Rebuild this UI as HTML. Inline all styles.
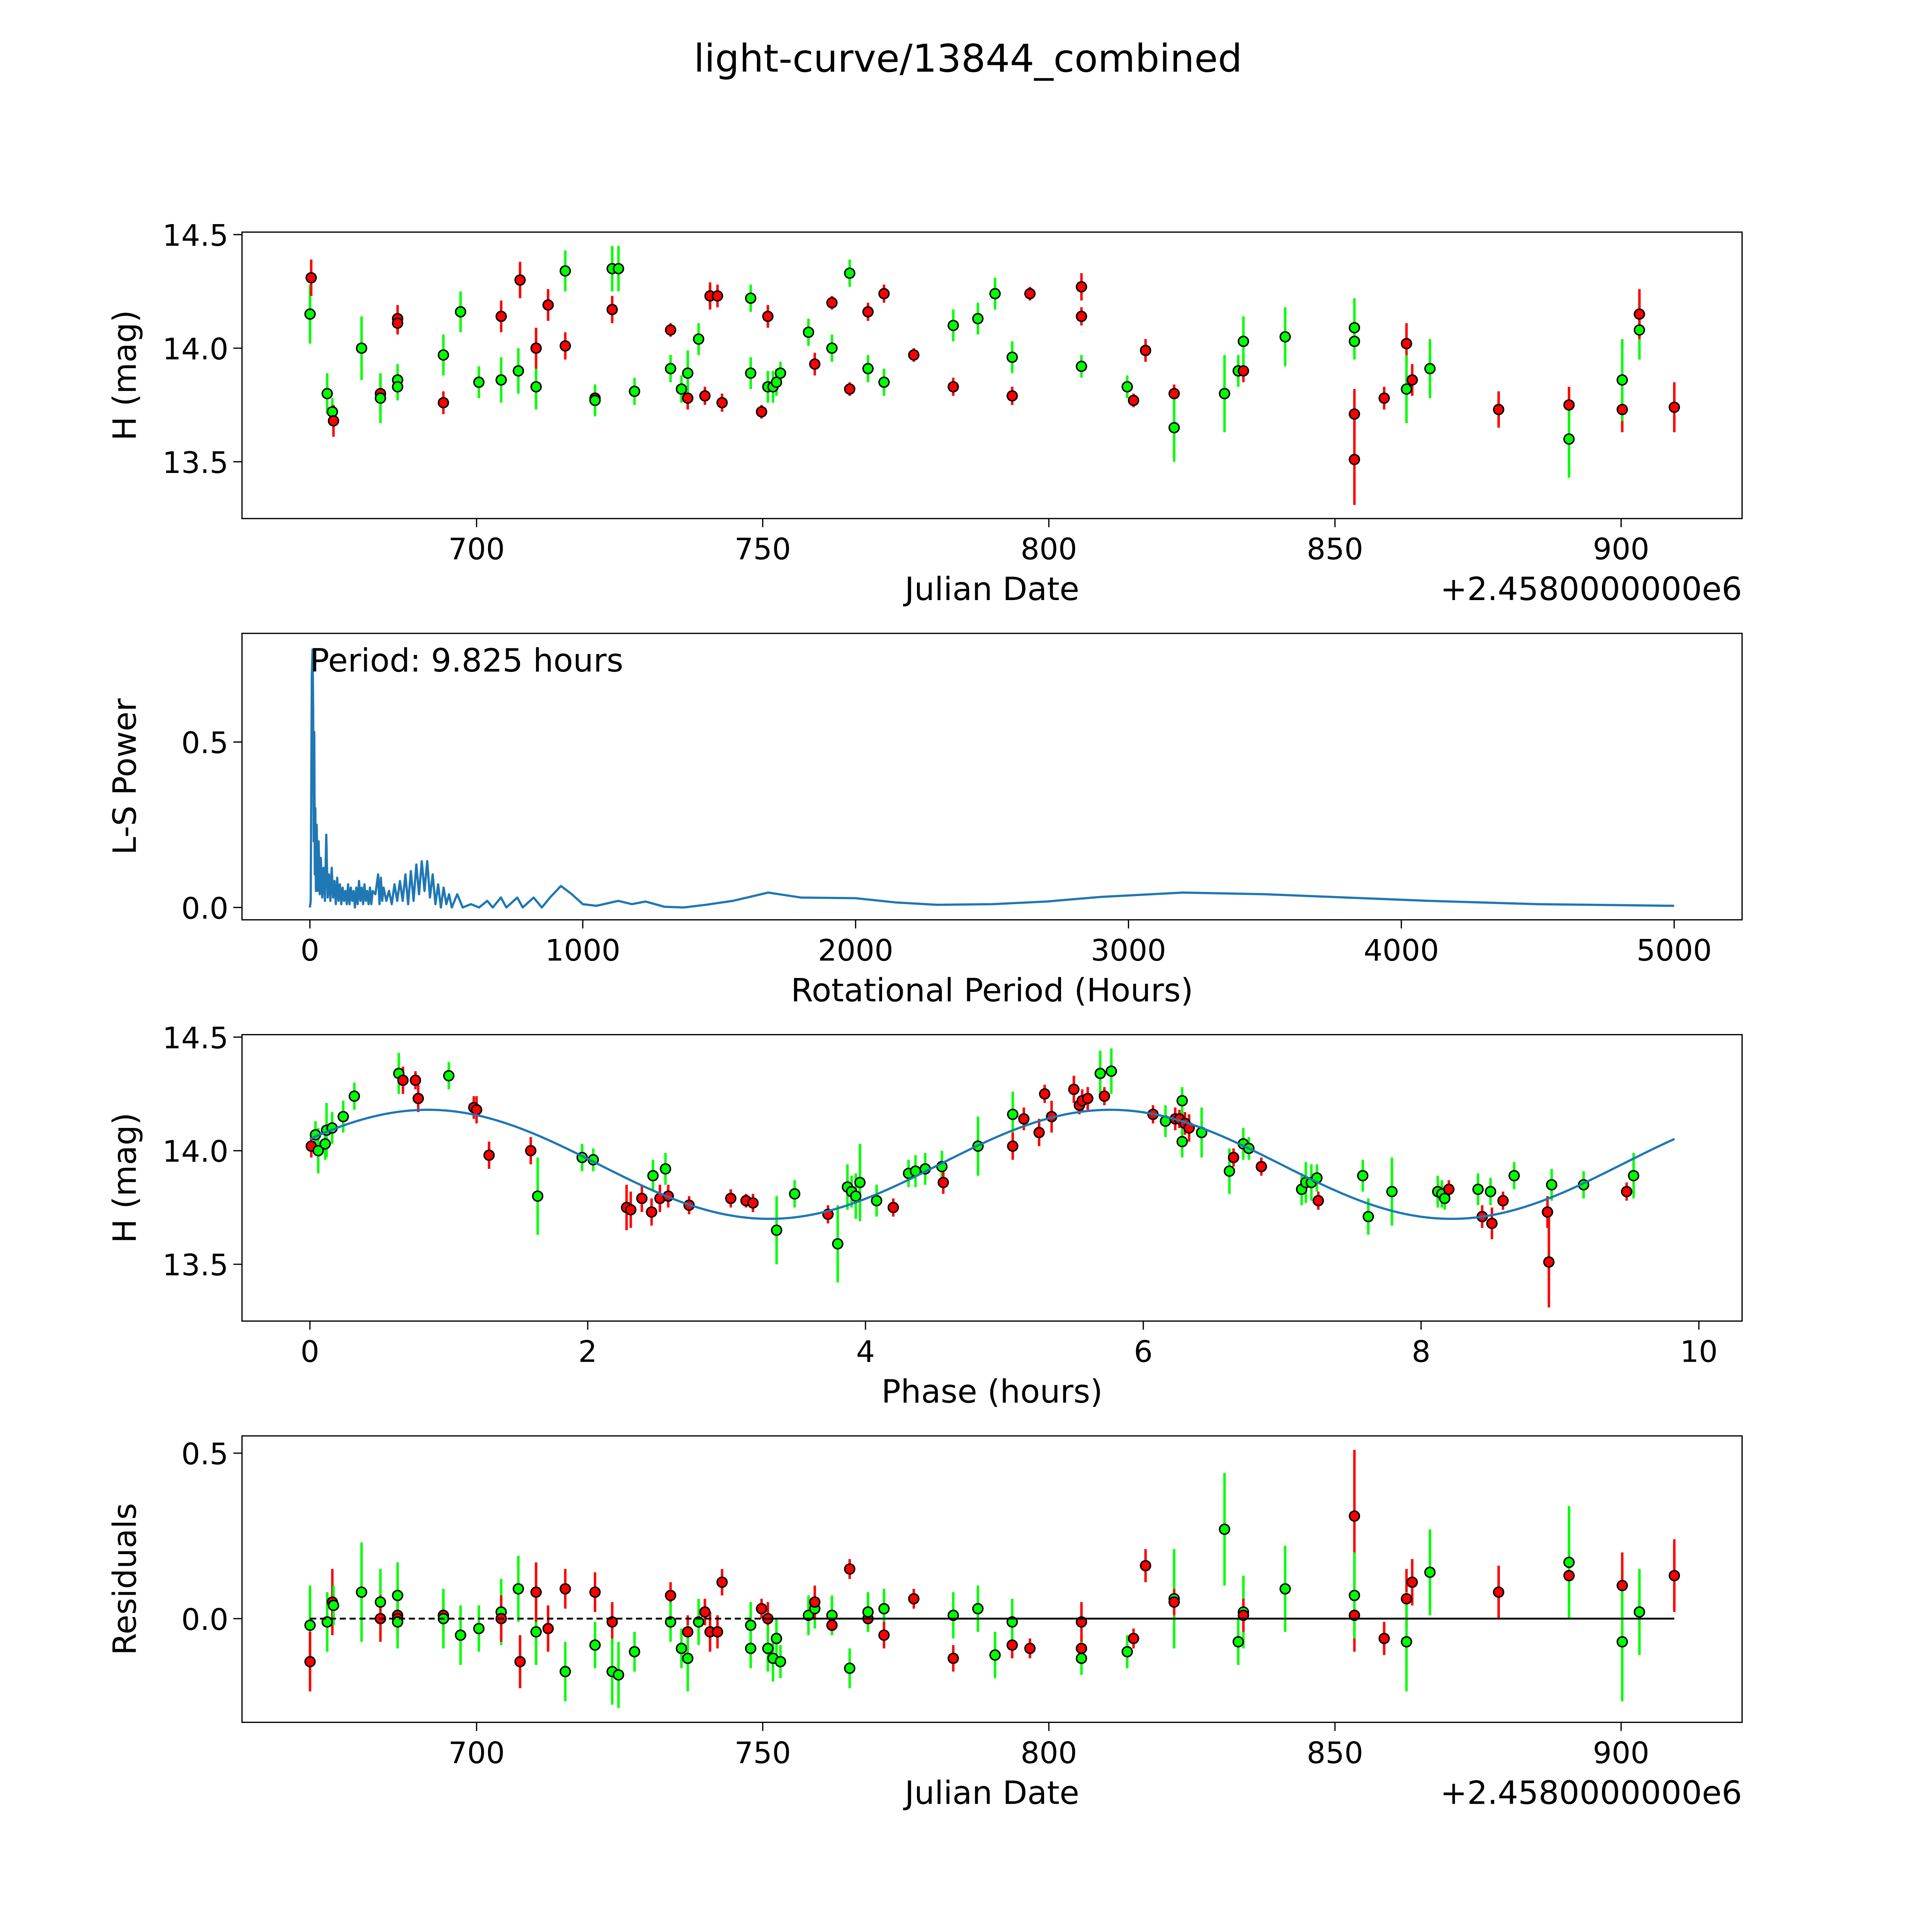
<!DOCTYPE html>
<html><head><meta charset="utf-8"><style>
html,body{margin:0;padding:0;background:#fff;overflow:hidden;width:5400px;height:5400px}
svg{display:block}
text{font-family:"DejaVu Sans","Liberation Sans",sans-serif;fill:#000}
</style></head><body>
<svg id="fig" xmlns="http://www.w3.org/2000/svg" width="5400" height="5400" viewBox="0 0 1690 1690">
<rect x="0" y="0" width="1690" height="1690" fill="#fff"/>
<text x="784" y="58" font-size="31" text-anchor="middle">light-curve/13844_combined</text>
<g id="g1"></g>
<g id="g2"></g>
<g id="g3"></g>
<g id="g4"></g>
</svg>
<script>
// ---- panel 1 data: light curve ----
const p1Jd=[670.9,671.1,673.9,674.8,675.0,679.9,683.2,683.2,686.2,686.2,686.2,686.2,694.2,694.2,697.2,700.4,704.3,704.3,707.3,707.6,710.4,710.4,712.5,715.5,715.5,720.7,720.7,723.7,723.7,724.8,727.6,733.9,733.9,735.8,736.9,736.9,738.8,739.9,740.8,742.1,742.9,747.9,747.9,749.8,750.9,750.9,751.8,752.4,753.1,758.0,759.1,762.1,762.1,765.2,765.2,768.4,768.4,771.2,771.2,776.4,783.3,783.3,787.6,790.6,796.7,793.6,793.6,805.7,805.7,805.7,813.7,814.8,816.9,821.9,821.9,830.7,833.1,833.1,834.0,834.0,841.3,853.4,853.4,853.4,853.4,858.6,862.5,862.5,863.5,866.6,878.6,890.9,890.9,900.2,900.2,903.2,903.2,909.3];
const p1Mag=[14.15,14.31,13.80,13.72,13.68,14.00,13.80,13.78,13.86,13.83,14.13,14.11,13.76,13.97,14.16,13.85,14.14,13.86,13.90,14.30,13.83,14.00,14.19,14.01,14.34,13.78,13.77,14.17,14.35,14.35,13.81,14.08,13.91,13.82,13.78,13.89,14.04,13.79,14.23,14.23,13.76,14.22,13.89,13.72,13.83,14.14,13.83,13.85,13.89,14.07,13.93,14.00,14.20,14.33,13.82,13.91,14.16,14.24,13.85,13.97,13.83,14.10,14.13,14.24,14.24,13.96,13.79,14.27,14.14,13.92,13.83,13.77,13.99,13.80,13.65,13.80,13.90,13.90,13.90,14.03,14.05,13.71,13.51,14.09,14.03,13.78,14.02,13.82,13.86,13.91,13.73,13.75,13.60,13.73,13.86,14.08,14.15,13.74];
const p1Err=[.13,.08,.09,.06,.07,.14,.07,.11,.07,.06,.06,.05,.05,.09,.09,.07,.07,.1,.1,.08,.1,.09,.07,.06,.09,.06,.07,.06,.1,.1,.06,.03,.06,.06,.05,.1,.07,.04,.06,.05,.04,.06,.07,.03,.07,.05,.07,.06,.05,.06,.05,.06,.03,.06,.03,.06,.04,.04,.06,.03,.04,.07,.07,.07,.03,.07,.04,.06,.04,.05,.05,.03,.05,.04,.15,.17,.04,.07,.05,.11,.13,.11,.2,.13,.08,.05,.09,.15,.07,.13,.08,.08,.17,.1,.18,.13,.11,.11];
const p1Col="grggrgrggg"+"rrrgggrggr"+"grrrgrgrgg"+"grggrggrrr"+"rggrgrgggg"+"rgrgrgrrgr"+"rgggrgrrrg"+"grrrggrgrg"+"grrggrrgrg"+"rrgrggrr";
// ---- panel 2 data: periodogram ----
const pgPeriod=[0,3,5,7,9.825,12,14,16,18,20,22,25,28,32,36,40,45,50,55,60,65,70,75,80,85,90,95,100,105,110,115,120,125,130,135,140,145,150,155,160,165,170,175,180,185,190,195,200,205,210,215,220,225,230,240,250,255,260,265,270,280,290,300,310,320,330,340,350,360,370,380,390,400,410,420,430,440,450,460,470,480,490,500,510,520,540,560,590,620,650,670,700,720,760,780,820,850,880,920,960,1000,1050,1130,1180,1230,1300,1370,1450,1550,1680,1800,2000,2150,2300,2500,2700,2900,3200,3500,3800,4100,4500,5000];
const pgPower=[0,0.02,0.35,0.7,0.78,0.6,0.2,0.53,0.1,0.3,0.05,0.25,0.05,0.2,0.04,0.15,0.03,0.12,0.02,0.22,0.03,0.1,0.02,0.12,0.03,0.08,0.01,0.09,0.02,0.07,0.01,0.06,0.02,0.05,0.01,0.07,0.01,0.06,0.02,0.05,0.0,0.06,0.01,0.08,0.02,0.06,0.01,0.07,0.02,0.05,0.01,0.06,0.01,0.05,0.04,0.1,0.01,0.09,0.02,0.06,0.02,0.05,0.01,0.07,0.02,0.08,0.02,0.1,0.01,0.11,0.02,0.13,0.04,0.14,0.05,0.14,0.03,0.1,0.01,0.07,0.0,0.06,0.01,0.04,0.0,0.04,0.0,0.01,0.0,0.02,0.0,0.03,0.0,0.03,0.0,0.03,0.0,0.03,0.065,0.04,0.01,0.005,0.02,0.01,0.018,0.002,0.0,0.008,0.02,0.045,0.03,0.028,0.015,0.008,0.01,0.018,0.032,0.045,0.04,0.03,0.02,0.01,0.005];
// ---- panel 3 data: phased curve ----
const p3Phase=[0.01,0.04,0.06,0.11,0.12,0.16,0.24,0.32,0.64,0.67,0.76,0.78,1.00,1.18,1.20,1.29,1.59,1.64,1.96,2.04,2.28,2.31,2.39,2.47,2.46,2.52,2.56,2.58,2.73,3.03,3.14,3.19,3.36,3.49,3.73,3.80,3.87,3.90,3.93,3.96,4.08,4.20,4.31,4.36,4.43,4.55,4.56,4.81,5.06,5.06,5.14,5.25,5.29,5.34,5.50,5.54,5.56,5.60,5.69,5.72,5.77,6.07,6.16,6.23,6.26,6.28,6.30,6.33,6.28,6.42,6.62,6.65,6.72,6.76,6.85,7.14,7.17,7.21,7.25,7.26,7.58,7.62,7.79,8.12,8.15,8.17,8.20,8.41,8.44,8.50,8.51,8.59,8.67,8.91,8.92,8.94,9.17,9.48,9.53];
const p3Mag=[14.02,14.07,14.00,14.03,14.09,14.10,14.15,14.24,14.34,14.31,14.31,14.23,14.33,14.19,14.18,13.98,14.00,13.80,13.97,13.96,13.75,13.74,13.79,13.89,13.73,13.79,13.92,13.80,13.76,13.79,13.78,13.77,13.65,13.81,13.72,13.59,13.84,13.82,13.80,13.86,13.78,13.75,13.90,13.91,13.92,13.93,13.86,14.02,14.16,14.02,14.14,14.08,14.25,14.15,14.27,14.20,14.22,14.23,14.34,14.24,14.35,14.16,14.13,14.14,14.14,14.22,14.12,14.10,14.04,14.08,13.91,13.97,14.03,14.01,13.93,13.83,13.86,13.86,13.88,13.78,13.89,13.71,13.82,13.82,13.81,13.79,13.83,13.83,13.71,13.82,13.68,13.78,13.89,13.73,13.51,13.85,13.85,13.82,13.89];
const p3Err=[.05,.06,.1,.07,.12,.07,.07,.06,.09,.06,.04,.06,.06,.05,.06,.06,.06,.17,.06,.05,.1,.08,.06,.07,.06,.06,.07,.05,.04,.04,.03,.04,.15,.06,.04,.17,.1,.07,.1,.17,.07,.04,.06,.07,.07,.07,.05,.13,.1,.06,.05,.06,.04,.07,.06,.04,.05,.05,.1,.04,.1,.04,.07,.05,.04,.06,.05,.06,.07,.11,.1,.04,.07,.05,.04,.07,.09,.08,.06,.04,.07,.08,.15,.07,.06,.05,.04,.07,.05,.06,.07,.04,.06,.07,.2,.07,.06,.04,.1];
const p3Col="rggggggggr"+"rrgrrrrggg"+"rrrgrrgrrr"+"rrggrggggg"+"grggggrggr"+"rrrrrrrrgr"+"grgrrgrrgg"+"grggrggggr"+"ggggggrgrg"+"rrgrrggrg";
// ---- model fit parameters ----
const modelMean=[13.94];
const modelAmp=[0.24];
const modelHalfPeriod=[4.9125];
const modelPeakPhase=[0.85];
const modelRange=[0,9.825];
// ---- panel 4 data: residuals ----
const p4Jd=[670.9,670.9,673.9,674.8,675.0,679.9,683.2,683.2,686.2,686.2,686.2,686.2,694.2,694.2,697.2,700.4,704.3,704.3,707.3,707.6,710.4,710.4,712.5,715.5,715.5,720.7,720.7,723.7,723.7,724.8,727.6,733.9,733.9,735.8,736.9,736.9,738.8,739.9,740.8,742.1,742.9,747.9,747.9,749.8,750.9,750.9,751.8,752.4,753.1,758.0,759.1,759.1,762.1,762.1,765.2,765.2,768.4,768.4,771.2,771.2,776.4,783.3,783.3,787.6,790.6,793.6,793.6,796.7,805.7,805.7,805.7,813.7,814.8,816.9,821.9,821.9,830.7,833.1,834.0,834.0,841.3,853.4,853.4,853.4,858.6,862.5,862.5,863.5,866.6,878.6,890.9,890.9,900.2,900.2,903.2,903.2,909.3];
const p4Res=[-0.02,-0.13,-0.01,0.05,0.04,0.08,0.05,0.00,0.07,0.01,0.00,-0.01,0.01,0.00,-0.05,-0.03,0.02,0.00,0.09,-0.13,-0.04,0.08,-0.03,0.09,-0.16,0.08,-0.08,-0.01,-0.16,-0.17,-0.10,0.07,-0.01,-0.09,-0.04,-0.12,-0.01,0.02,-0.04,-0.04,0.11,-0.09,-0.02,0.03,0.00,-0.09,-0.12,-0.06,-0.13,0.01,0.03,0.05,-0.02,0.01,0.15,-0.15,0.00,0.02,0.03,-0.05,0.06,-0.12,0.01,0.03,-0.11,-0.08,-0.01,-0.09,-0.01,-0.09,-0.12,-0.10,-0.06,0.16,0.06,0.05,0.27,-0.07,0.02,0.01,0.09,0.01,0.31,0.07,-0.06,0.06,-0.07,0.11,0.14,0.08,0.13,0.17,0.10,-0.07,0.02,0.02,0.13];
const p4Err=[.12,.09,.09,.1,.06,.15,.1,.07,.1,.06,.06,.08,.05,.09,.09,.07,.1,.07,.1,.08,.1,.09,.07,.06,.09,.06,.07,.06,.1,.1,.06,.04,.06,.06,.05,.1,.07,.04,.06,.05,.04,.06,.07,.03,.05,.07,.07,.06,.05,.06,.06,.05,.03,.06,.03,.06,.04,.06,.06,.04,.03,.04,.07,.07,.07,.04,.07,.03,.06,.04,.05,.05,.03,.05,.15,.04,.17,.07,.11,.05,.13,.11,.2,.13,.05,.09,.15,.07,.13,.08,.08,.17,.1,.18,.11,.13,.11];
const p4Col="grgrgggrgr"+"rgrggggrgr"+"grrrgrgrgg"+"grggrggrrr"+"rggrrggggg"+"grrgrgrggr"+"rrgggrgrrr"+"ggrrgrgggr"+"grrgrrgrgr"+"rgrgrgr";
const dashX=[670.9,750];
const solidX=[750,909.3];

// ---- ticks ----
const jdTicks=[700,750,800,850,900];
const magTicks=[13.5,14.0,14.5];
const pgXTicks=[0,1000,2000,3000,4000,5000];
const pgYTicks=[0.0,0.5];
const phTicks=[0,2,4,6,8,10];
const resTicks=[0.0,0.5];

const NS="http://www.w3.org/2000/svg";
function mk(parent,tag,attrs){const e=document.createElementNS(NS,tag);for(const k in attrs)e.setAttribute(k,attrs[k]);parent.appendChild(e);return e;}
function lin(d0,d1,r0,r1){return v=>r0+(v-d0)*(r1-r0)/(d1-d0);}
const colMap={r:"#ff0000",g:"#00ff00"};
const L=196,R=1411;

function frame(g,top,bot,xs,ys,xt,yt,xfmt,yfmt,xlabel,ylabel,offset){
  const box=mk(g,'rect',{x:L,y:top,width:R-L,height:bot-top,fill:'none',stroke:'#000','stroke-width':1});
  
  
  xt.forEach(v=>{const x=xs(v);
    const t=mk(g,'line',{x1:x,x2:x,y1:bot,y2:bot+7,stroke:'#000','stroke-width':1});
    
    
    const tx=mk(g,'text',{x:x,y:bot+33,'font-size':24,'text-anchor':'middle'});tx.textContent=xfmt(v);
    
    });
  yt.forEach(v=>{const y=ys(v);
    const t=mk(g,'line',{x1:L-7,x2:L,y1:y,y2:y,stroke:'#000','stroke-width':1});
    
    
    const tx=mk(g,'text',{x:L-11,y:y+9,'font-size':24,'text-anchor':'end'});tx.textContent=yfmt(v);
    
    });
  const xl=mk(g,'text',{x:(L+R)/2,y:bot+66,'font-size':26,'text-anchor':'middle'});xl.textContent=xlabel;
  
  
  const yl=mk(g,'text',{x:0,y:0,'font-size':26,'text-anchor':'middle',transform:`translate(${L-86},${(top+bot)/2}) rotate(-90)`});yl.textContent=ylabel;
  
  
  if(offset){const o=mk(g,'text',{x:R,y:bot+66,'font-size':26,'text-anchor':'end'});o.textContent=offset;
    
    }
}
function points(g,xsArr,ysArr,errArr,cols,xs,ys){
  for(let i=0;i<xsArr.length;i++){const c=colMap[cols[i]]||"#00ff00";const x=xs(xsArr[i]);
    const e=mk(g,'line',{x1:x,x2:x,y1:ys(ysArr[i]-errArr[i]),y2:ys(ysArr[i]+errArr[i]),stroke:c,'stroke-width':2});
    
    }
  for(let i=0;i<xsArr.length;i++){const c=colMap[cols[i]]||"#00ff00";
    const p=mk(g,'circle',{cx:xs(xsArr[i]),cy:ys(ysArr[i]),r:4,fill:c,stroke:'#000','stroke-width':1.2});
    
    }
}
const jdFmt=v=>String(v);
const f1=v=>v.toFixed(1);

// Panel 1
(function(){const g=document.getElementById('g1');
  const xs=lin(700,900,386,1313),ys=lin(14,14.5,282,190);
  points(g,p1Jd,p1Mag,p1Err,p1Col,xs,ys);
  frame(g,188,420,xs,ys,jdTicks,magTicks,jdFmt,f1,'Julian Date','H (mag)','+2.4580000000e6');})();
// Panel 2
(function(){const g=document.getElementById('g2');
  const xs=lin(0,5000,251,1356),ys=lin(0,0.5,735,601);
  let d='';pgPeriod.forEach((p,i)=>{d+=(i?'L':'M')+xs(p).toFixed(2)+' '+ys(pgPower[i]).toFixed(2);});
  const ln=mk(g,'path',{d:d,fill:'none',stroke:'#1f77b4','stroke-width':1.8,'stroke-linejoin':'round'});
  
  
  const t=mk(g,'text',{x:251,y:544,'font-size':26});t.textContent='Period: 9.825 hours';
  
  
  frame(g,513,745,xs,ys,pgXTicks,pgYTicks,jdFmt,f1,'Rotational Period (Hours)','L-S Power');})();
// Panel 3
(function(){const g=document.getElementById('g3');
  const xs=lin(0,10,251,1376),ys=lin(14,14.5,932,840);
  points(g,p3Phase,p3Mag,p3Err,p3Col,xs,ys);
  let d='';const n=300;
  for(let i=0;i<=n;i++){const ph=modelRange[0]+(modelRange[1]-modelRange[0])*i/n;
    const m=modelMean[0]+modelAmp[0]*Math.cos(2*Math.PI*(ph-modelPeakPhase[0])/modelHalfPeriod[0]);
    d+=(i?'L':'M')+xs(ph).toFixed(2)+' '+ys(m).toFixed(2);}
  const ln=mk(g,'path',{d:d,fill:'none',stroke:'#1f77b4','stroke-width':1.8});
  
  
  frame(g,838,1070,xs,ys,phTicks,magTicks,jdFmt,f1,'Phase (hours)','H (mag)');})();
// Panel 4
(function(){const g=document.getElementById('g4');
  const xs=lin(700,900,386,1313),ys=lin(0,0.5,1311,1177);
  points(g,p4Jd,p4Res,p4Err,p4Col,xs,ys);
  const dl=mk(g,'line',{x1:xs(dashX[0]),x2:xs(dashX[1]),y1:ys(0),y2:ys(0),stroke:'#000','stroke-width':1.5,'stroke-dasharray':'5,3'});
  
  
  const sl=mk(g,'line',{x1:xs(solidX[0]),x2:xs(solidX[1]),y1:ys(0),y2:ys(0),stroke:'#000','stroke-width':1.5});
  
  
  frame(g,1163,1395,xs,ys,jdTicks,resTicks,jdFmt,f1,'Julian Date','Residuals','+2.4580000000e6');})();
</script>
</body></html>
